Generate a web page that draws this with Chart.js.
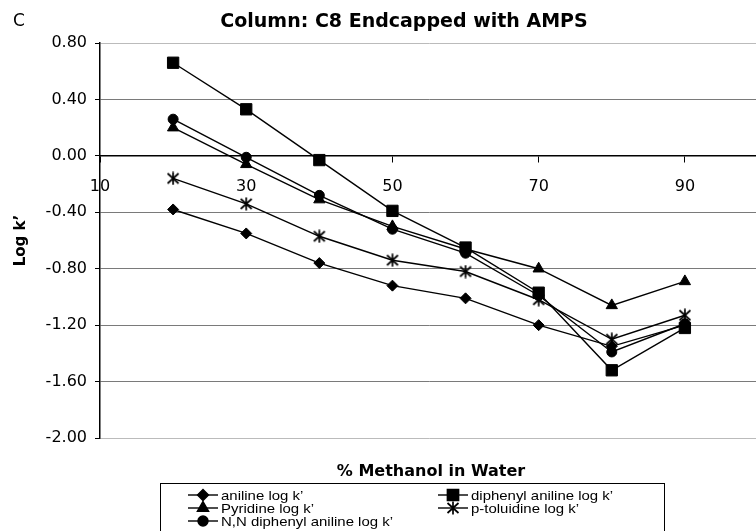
<!DOCTYPE html>
<html>
<head>
<meta charset="utf-8">
<script src="https://cdn.jsdelivr.net/npm/chart.js@4/dist/chart.umd.min.js"></script>
<style>
  html, body { margin: 0; padding: 0; background: #fff; overflow: hidden; }
  #wrap { width: 756px; height: 531px; overflow: hidden; position: relative; }
  #wrap canvas { position: absolute; left: 0; top: 0; }
</style>
</head>
<body>
<div id="wrap"><canvas id="chart" width="767" height="531"></canvas></div>
<script>
// x positions (% methanol) and tick labels
const methanol = [20, 30, 40, 50, 60, 70, 80, 90];
const xTicks = [10, 30, 50, 70, 90];

// log k' values
const aniline      = [-0.38, -0.55, -0.76, -0.92, -1.01, -1.20, -1.35, -1.20];
const pyridine     = [0.20, -0.06, -0.31, -0.50, -0.66, -0.80, -1.06, -0.89];
const nnDiphenyl   = [0.26, -0.01, -0.28, -0.52, -0.69, -0.99, -1.39, -1.19];
const diphenyl     = [0.66, 0.33, -0.03, -0.39, -0.65, -0.97, -1.52, -1.22];
const pToluidine   = [-0.16, -0.34, -0.57, -0.74, -0.82, -1.02, -1.30, -1.13];

const seriesNames = ["aniline log k’", "Pyridine log k’", "N,N diphenyl aniline log k’",
                     "diphenyl aniline log k’", "p-toluidine log k’"];

const FONT = "'DejaVu Sans', sans-serif";

// Excel-style asterisk marker: an X with a vertical stroke
function makeAsterisk() {
  const c = document.createElement('canvas');
  c.width = 14; c.height = 14;
  const g = c.getContext('2d');
  g.strokeStyle = '#000';
  g.lineWidth = 1.7;
  g.beginPath();
  g.moveTo(7, 0.5); g.lineTo(7, 13.5);
  g.moveTo(1.5, 2); g.lineTo(12.5, 12);
  g.moveTo(12.5, 2); g.lineTo(1.5, 12);
  g.stroke();
  return c;
}
const asterisk = makeAsterisk();

function toPoints(vals) {
  return vals.map((v, i) => ({ x: methanol[i], y: v }));
}

function series(label, vals, style, radius) {
  return {
    label: label,
    data: toPoints(vals),
    borderColor: '#000',
    backgroundColor: '#000',
    borderWidth: 1.4,
    pointStyle: style,
    pointRadius: radius,
    pointHoverRadius: radius,
    pointBorderWidth: 1,
    pointBorderColor: '#000',
    pointBackgroundColor: '#000',
    tension: 0,
    fill: false
  };
}

const datasets = [
  series(seriesNames[0], aniline, 'rectRot', 5.5),
  series(seriesNames[1], pyridine, 'triangle', 6.5),
  series(seriesNames[2], nnDiphenyl, 'circle', 5),
  series(seriesNames[3], diphenyl, 'rect', 8),
  series(seriesNames[4], pToluidine, asterisk, 7)
];

// titles + boxed legend drawn on the canvas
const decorations = {
  id: 'decorations',
  afterDraw(chart) {
    const ctx = chart.ctx;
    ctx.save();
    ctx.fillStyle = '#000';
    ctx.textBaseline = 'middle';

    ctx.font = "17px " + FONT;
    ctx.textAlign = 'left';
    ctx.fillText('C', 13, 22);

    ctx.font = "bold 19px " + FONT;
    ctx.textAlign = 'center';
    ctx.fillText('Column: C8 Endcapped with AMPS', 404, 22);

    ctx.font = "bold 16px " + FONT;
    ctx.fillText('% Methanol in Water', 431, 472);

    // legend box
    ctx.strokeStyle = '#000';
    ctx.lineWidth = 1;
    ctx.strokeRect(160.5, 483.5, 504, 60);

    const slots = [
      { x: 188, y: 495 }, { x: 188, y: 508 }, { x: 188, y: 521 },
      { x: 438, y: 495 }, { x: 438, y: 508 }
    ];
    ctx.textAlign = 'left';
    chart.data.datasets.forEach((ds, i) => {
      const s = slots[i];
      ctx.lineWidth = 1.4;
      ctx.beginPath();
      ctx.moveTo(s.x, s.y);
      ctx.lineTo(s.x + 30, s.y);
      ctx.stroke();
      Chart.helpers.drawPoint(ctx, {
        pointStyle: ds.pointStyle,
        radius: ds.pointRadius,
        rotation: 0,
        borderWidth: ds.pointBorderWidth
      }, s.x + 15, s.y);
      // label text, slightly widened like the scanned original
      ctx.save();
      ctx.translate(s.x + 33, s.y + 1);
      ctx.scale(1.15, 1);
      ctx.font = "13px 'Liberation Sans', Arial, sans-serif";
      ctx.fillStyle = '#000';
      ctx.fillText(ds.label, 0, 0);
      ctx.restore();
    });
    ctx.restore();
  }
};

new Chart(document.getElementById('chart'), {
  type: 'line',
  data: { datasets: datasets },
  plugins: [decorations],
  options: {
    responsive: false,
    animation: false,
    devicePixelRatio: 1,
    layout: { padding: { top: 43, bottom: 93, left: 0, right: 0 } },
    plugins: {
      legend: { display: false },
      title: { display: false },
      tooltip: { enabled: false }
    },
    scales: {
      x: {
        type: 'linear',
        position: { y: 0 },
        min: 10,
        max: 100,
        afterBuildTicks: axis => { axis.ticks = xTicks.map(v => ({ value: v })); },
        grid: { drawOnChartArea: false, drawTicks: true, tickLength: 6, tickColor: '#000' },
        border: { display: true, color: '#000', width: 1.5 },
        ticks: {
          color: '#000',
          font: { family: FONT, size: 16 },
          padding: 15,
          maxRotation: 0,
          autoSkip: false,
          callback: v => String(v)
        }
      },
      y: {
        min: -2.0,
        max: 0.8,
        afterFit: scale => { scale.width = 100; },
        ticks: {
          stepSize: 0.4,
          color: '#000',
          font: { family: FONT, size: 16 },
          padding: 8,
          callback: v => (Math.abs(v) < 1e-9 ? 0 : Number(v)).toFixed(2)
        },
        grid: {
          color: ctx => (ctx.index === 0 || (ctx.tick && ctx.tick.value >= 0.79)) ? '#bbb' : '#7a7a7a',
          lineWidth: 1,
          tickLength: 5,
          tickColor: '#000'
        },
        border: { display: true, color: '#000', width: 1.5 },
        title: {
          display: true,
          text: 'Log k’',
          color: '#000',
          font: { family: FONT, size: 15, weight: 'bold' },
          padding: { top: 12, bottom: 0 }
        }
      }
    }
  }
});
</script>
</body>
</html>
